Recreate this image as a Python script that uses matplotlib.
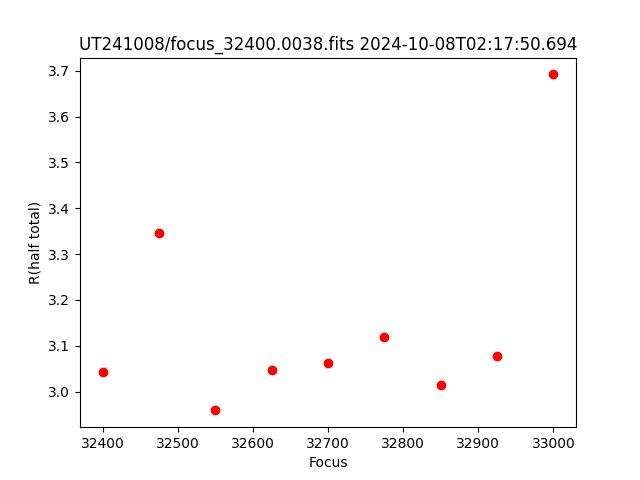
import matplotlib
matplotlib.use("Agg")
import matplotlib.pyplot as plt

focus = [32400, 32475, 32550, 32625, 32700, 32775, 32850, 32925, 33000]
r_half = [3.042, 3.346, 2.959, 3.047, 3.062, 3.119, 3.014, 3.077, 3.692]

fig, ax = plt.subplots(figsize=(6.4, 4.8), dpi=100)
ax.plot(focus, r_half, 'ro')
ax.set_xlabel('Focus')
ax.set_ylabel('R(half total)')
ax.set_title('UT241008/focus_32400.0038.fits 2024-10-08T02:17:50.694')
fig.savefig('out.png')
